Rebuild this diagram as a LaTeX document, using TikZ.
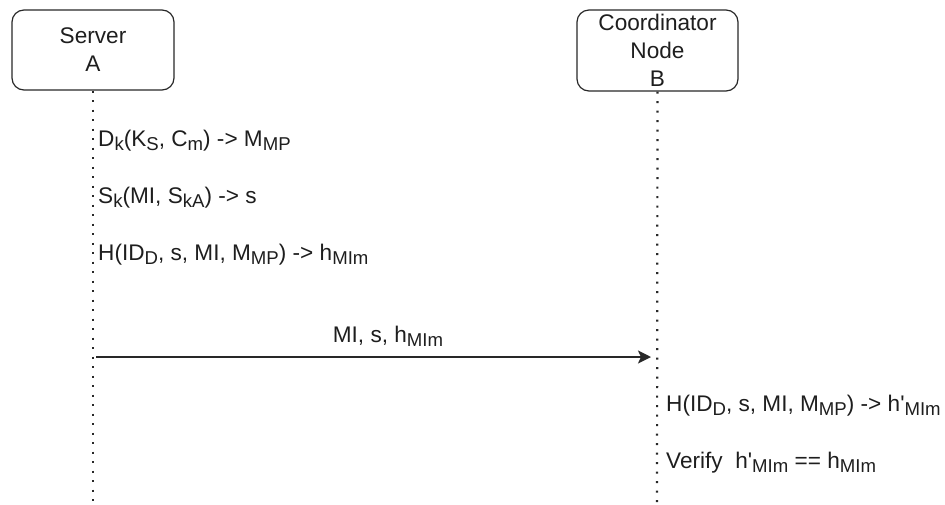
\documentclass[tikz,border=0pt]{standalone}
\usepackage{fontspec}
\setmainfont{Liberation Sans}[Ligatures=TeXOff]
\usetikzlibrary{arrows.meta}
\definecolor{ink}{RGB}{30,30,30}
\definecolor{edge}{RGB}{40,40,40}
% lowered, smaller subscript text
\newcommand\lo[1]{\raisebox{-4.6pt}{\fontsize{18.6}{18.6}\selectfont #1}}
\begin{document}
\begin{tikzpicture}[x=1pt,y=-1pt,
  font=\fontsize{22.6}{28}\selectfont,
  actor/.style={draw=edge,line width=1.2pt,rounded corners=12pt,
    text=ink,align=center,inner sep=0pt},
  lifeline/.style={draw=edge,line width=2.2pt,dash pattern=on 2pt off 7.5pt},
  note/.style={text=ink,anchor=base west,inner sep=0pt},
  msg/.style={draw=edge,line width=2pt,
    -{Stealth[length=13pt,width=13pt,inset=3pt]}}]
\useasboundingbox (0,0) rectangle (945,504);

% participants
\node[actor,minimum width=162pt,minimum height=80pt] (A) at (93,50)
  {Server\\A};
\node[actor,minimum width=161pt,minimum height=81pt] (B) at (657.5,50.5)
  {Coordinator\\Node\\B};

% lifelines
\coordinate (Aend) at (93,504);
\coordinate (Bend) at (657,504);
\draw[lifeline] (A.south) -- (Aend);
\draw[lifeline] (B.south) -- (Bend);

% local steps at A
\node[note] (a1) at (98,146) {D\lo{k}(K\lo{S}, C\lo{m}) -> M\lo{MP}};
\node[note] (a2) at (98,203) {S\lo{k}(MI, S\lo{kA}) -> s};
\node[note] (a3) at (98,260) {H(ID\lo{D}, s, MI, M\lo{MP}) -> h\lo{MIm}};

% message A -> B
\coordinate (m1) at (96,357);
\coordinate (m2) at (651,357);
\draw[msg] (m1) -- (m2);
\node[text=ink,anchor=base,inner sep=0pt] (ml) at (388,342) {MI, s, h\lo{MIm}};

% local steps at B
\node[note] (b1) at (666,411) {H(ID\lo{D}, s, MI, M\lo{MP}) -> h'\lo{MIm}};
\node[note] (b2) at (666,468) {Verify\ \ h'\lo{MIm} == h\lo{MIm}};
\end{tikzpicture}
\end{document}
